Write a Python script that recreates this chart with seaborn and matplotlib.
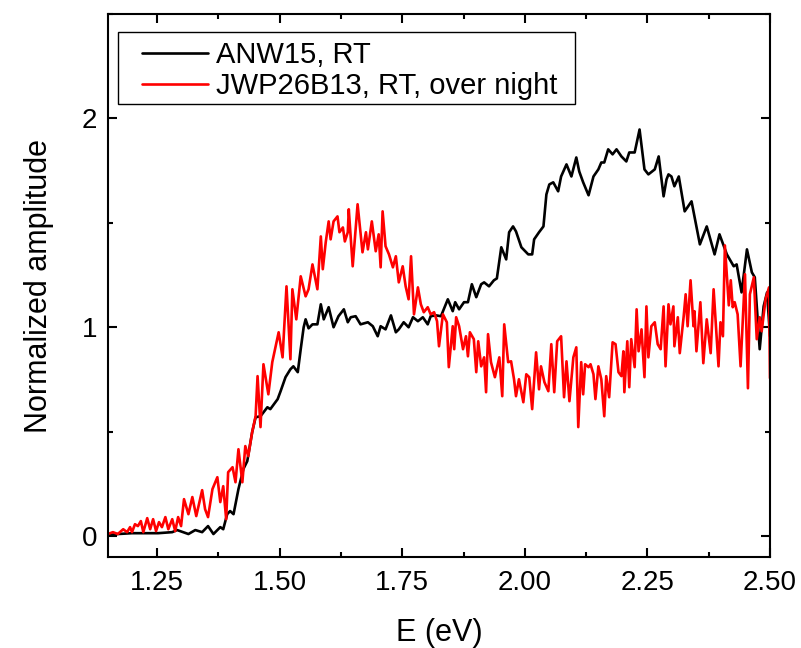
import numpy as np
import pandas as pd
import matplotlib
matplotlib.use("Agg")
import matplotlib.pyplot as plt
import seaborn as sns
from matplotlib.ticker import MultipleLocator, FormatStrFormatter
from matplotlib.patches import Rectangle

# ---------------- data ----------------
series_names = ["ANW15, RT", "JWP26B13, RT, over night"]

anw_E = [1.150, 1.170, 1.199, 1.232, 1.252, 1.281, 1.291, 1.303, 1.314, 1.328,
         1.342, 1.354, 1.365, 1.379, 1.385, 1.393, 1.399, 1.406, 1.416, 1.426,
         1.434, 1.444, 1.451, 1.461, 1.475, 1.481, 1.496, 1.502, 1.512, 1.522,
         1.528, 1.537, 1.543, 1.549, 1.553, 1.559, 1.567, 1.577, 1.584, 1.590,
         1.600, 1.610, 1.620, 1.631, 1.639, 1.645, 1.655, 1.665, 1.680, 1.690,
         1.700, 1.706, 1.716, 1.727, 1.737, 1.743, 1.753, 1.763, 1.772, 1.782,
         1.792, 1.802, 1.808, 1.819, 1.829, 1.843, 1.853, 1.858, 1.866, 1.876,
         1.884, 1.892, 1.901, 1.911, 1.917, 1.927, 1.937, 1.943, 1.952, 1.962,
         1.968, 1.976, 1.982, 1.993, 2.007, 2.015, 2.019, 2.029, 2.038, 2.044,
         2.050, 2.058, 2.068, 2.074, 2.085, 2.095, 2.105, 2.111, 2.119, 2.130,
         2.140, 2.150, 2.156, 2.162, 2.170, 2.179, 2.187, 2.197, 2.207, 2.213,
         2.224, 2.234, 2.244, 2.252, 2.265, 2.273, 2.283, 2.289, 2.293, 2.299,
         2.305, 2.314, 2.326, 2.340, 2.357, 2.371, 2.387, 2.397, 2.412, 2.426,
         2.432, 2.442, 2.453, 2.463, 2.469, 2.479, 2.487, 2.494, 2.500]
anw_amp = [0.005, 0.010, 0.014, 0.014, 0.014, 0.019, 0.029, 0.019, 0.010, 0.029,
           0.019, 0.048, 0.010, 0.043, 0.033, 0.105, 0.120, 0.105, 0.225, 0.321,
           0.359, 0.498, 0.569, 0.574, 0.617, 0.608, 0.656, 0.694, 0.761, 0.799,
           0.813, 0.785, 0.895, 1.000, 1.038, 0.995, 1.014, 1.014, 1.110, 1.038,
           1.096, 1.000, 1.053, 1.086, 1.024, 1.048, 1.053, 1.014, 1.024, 1.005,
           0.957, 1.005, 0.990, 1.057, 0.976, 0.990, 1.024, 1.000, 1.048, 1.029,
           1.048, 1.014, 1.053, 1.057, 1.053, 1.134, 1.077, 1.120, 1.086, 1.120,
           1.120, 1.206, 1.144, 1.206, 1.215, 1.196, 1.225, 1.234, 1.383, 1.325,
           1.455, 1.483, 1.459, 1.383, 1.349, 1.349, 1.421, 1.455, 1.483, 1.636,
           1.684, 1.694, 1.651, 1.722, 1.780, 1.722, 1.813, 1.746, 1.694, 1.632,
           1.722, 1.756, 1.789, 1.789, 1.852, 1.828, 1.852, 1.818, 1.794, 1.837,
           1.837, 1.947, 1.756, 1.732, 1.756, 1.818, 1.627, 1.708, 1.732, 1.722,
           1.675, 1.722, 1.555, 1.603, 1.397, 1.483, 1.349, 1.445, 1.349, 1.292,
           1.301, 1.167, 1.373, 1.263, 1.239, 0.895, 1.100, 1.167, 0.957]

jwp_E = [1.150, 1.160, 1.170, 1.181, 1.189, 1.195, 1.199, 1.205, 1.211, 1.217,
         1.222, 1.230, 1.236, 1.242, 1.248, 1.254, 1.260, 1.267, 1.273, 1.281,
         1.287, 1.293, 1.299, 1.305, 1.314, 1.322, 1.330, 1.342, 1.348, 1.354,
         1.363, 1.373, 1.379, 1.385, 1.391, 1.395, 1.404, 1.410, 1.416, 1.424,
         1.430, 1.436, 1.444, 1.451, 1.455, 1.461, 1.467, 1.477, 1.485, 1.492,
         1.498, 1.506, 1.514, 1.522, 1.526, 1.534, 1.543, 1.553, 1.559, 1.567,
         1.573, 1.577, 1.584, 1.588, 1.594, 1.600, 1.604, 1.610, 1.618, 1.622,
         1.629, 1.633, 1.639, 1.641, 1.649, 1.659, 1.669, 1.676, 1.680, 1.688,
         1.696, 1.702, 1.706, 1.710, 1.716, 1.723, 1.731, 1.737, 1.743, 1.751,
         1.757, 1.763, 1.768, 1.774, 1.782, 1.788, 1.794, 1.802, 1.808, 1.815,
         1.821, 1.825, 1.833, 1.841, 1.845, 1.853, 1.856, 1.860, 1.866, 1.874,
         1.880, 1.884, 1.888, 1.896, 1.901, 1.905, 1.911, 1.917, 1.921, 1.925,
         1.931, 1.939, 1.948, 1.954, 1.958, 1.966, 1.972, 1.978, 1.982, 1.988,
         1.997, 2.003, 2.009, 2.015, 2.023, 2.029, 2.033, 2.040, 2.048, 2.054,
         2.060, 2.066, 2.074, 2.080, 2.085, 2.091, 2.099, 2.105, 2.109, 2.115,
         2.119, 2.123, 2.130, 2.134, 2.140, 2.144, 2.150, 2.156, 2.162, 2.166,
         2.172, 2.179, 2.185, 2.191, 2.197, 2.201, 2.203, 2.209, 2.213, 2.217,
         2.224, 2.228, 2.232, 2.238, 2.244, 2.248, 2.252, 2.258, 2.265, 2.271,
         2.277, 2.283, 2.287, 2.293, 2.297, 2.303, 2.305, 2.312, 2.316, 2.324,
         2.328, 2.332, 2.338, 2.344, 2.346, 2.350, 2.358, 2.364, 2.371, 2.379,
         2.385, 2.395, 2.399, 2.404, 2.408, 2.416, 2.420, 2.424, 2.428, 2.434,
         2.440, 2.449, 2.455, 2.459, 2.467, 2.473, 2.479, 2.483, 2.491, 2.498,
         2.500]
jwp_amp = [0.010, 0.019, 0.010, 0.033, 0.019, 0.043, 0.019, 0.057, 0.048, 0.072,
           0.019, 0.086, 0.033, 0.081, 0.024, 0.067, 0.043, 0.091, 0.033, 0.081,
           0.024, 0.091, 0.048, 0.177, 0.105, 0.187, 0.096, 0.220, 0.129, 0.091,
           0.225, 0.282, 0.163, 0.239, 0.081, 0.306, 0.330, 0.258, 0.416, 0.258,
           0.431, 0.383, 0.498, 0.574, 0.766, 0.522, 0.823, 0.679, 0.833, 0.909,
           0.976, 0.856, 1.196, 0.847, 1.182, 1.038, 1.244, 1.148, 1.182, 1.301,
           1.230, 1.182, 1.435, 1.278, 1.407, 1.507, 1.421, 1.507, 1.531, 1.455,
           1.478, 1.411, 1.455, 1.565, 1.292, 1.589, 1.359, 1.455, 1.373, 1.507,
           1.364, 1.445, 1.287, 1.555, 1.388, 1.349, 1.287, 1.340, 1.215, 1.292,
           1.196, 1.134, 1.340, 1.062, 1.191, 1.110, 1.072, 1.096, 1.062, 1.072,
           1.029, 0.909, 1.062, 1.024, 0.809, 1.005, 0.895, 1.048, 1.005, 0.895,
           0.957, 0.861, 0.976, 0.943, 0.785, 0.933, 0.813, 0.856, 0.689, 0.967,
           0.833, 0.761, 0.856, 0.670, 1.014, 0.833, 0.837, 0.751, 0.670, 0.751,
           0.641, 0.775, 0.761, 0.608, 0.880, 0.703, 0.813, 0.737, 0.694, 0.919,
           0.689, 0.933, 0.957, 0.665, 0.837, 0.646, 0.856, 0.904, 0.522, 0.833,
           0.679, 0.823, 0.809, 0.823, 0.775, 0.656, 0.813, 0.751, 0.574, 0.766,
           0.665, 0.928, 0.919, 0.785, 0.766, 0.885, 0.689, 0.933, 0.713, 0.943,
           0.809, 1.086, 0.885, 0.990, 0.761, 1.100, 0.856, 1.005, 1.024, 0.919,
           0.895, 1.100, 0.813, 1.110, 1.014, 1.100, 0.909, 1.048, 0.876, 1.053,
           1.158, 1.005, 1.225, 1.005, 1.077, 0.885, 1.120, 0.828, 1.038, 0.876,
           1.182, 0.813, 1.024, 0.957, 1.392, 1.105, 1.225, 1.096, 1.120, 1.062,
           0.813, 1.254, 0.708, 1.158, 1.239, 0.943, 1.048, 0.981, 1.134, 1.191,
           0.756]

x_ticks = [1.25, 1.50, 1.75, 2.00, 2.25, 2.50]
y_ticks = [0, 1, 2]

# ---------------- plot ----------------
sns.set_style("white")
plt.rcParams["font.family"] = ["Liberation Sans", "DejaVu Sans"]
plt.rcParams["text.color"] = "black"
plt.rcParams["axes.labelcolor"] = "black"
plt.rcParams["xtick.color"] = "black"
plt.rcParams["ytick.color"] = "black"

W, H = 801, 648
fig = plt.figure(figsize=(W / 100, H / 100), dpi=100)
ax_l, ax_r, ax_t, ax_b = 108, 770, 14, 557
ax = fig.add_axes([ax_l / W, 1 - ax_b / H, (ax_r - ax_l) / W, (ax_b - ax_t) / H])

df_anw = pd.DataFrame({"E": anw_E, "amp": anw_amp})
df_jwp = pd.DataFrame({"E": jwp_E, "amp": jwp_amp})

LW = 1.9
sns.lineplot(data=df_anw, x="E", y="amp", ax=ax, color="#000000", lw=LW,
             sort=False, estimator=None, label=series_names[0])
sns.lineplot(data=df_jwp, x="E", y="amp", ax=ax, color="#FF0000", lw=LW,
             sort=False, estimator=None, label=series_names[1])

ax.set_xlim(1.15, 2.50)
ax.set_ylim(-0.1, 2.5)
ax.set_xticks(x_ticks)
ax.set_yticks(y_ticks)
ax.xaxis.set_major_formatter(FormatStrFormatter("%.2f"))
ax.xaxis.set_minor_locator(MultipleLocator(0.125))
ax.yaxis.set_minor_locator(MultipleLocator(0.5))

for s in ax.spines.values():
    s.set_visible(True)
    s.set_color("black")
    s.set_linewidth(1.5)

ax.tick_params(which="both", direction="in", top=True, right=True,
               bottom=True, left=True, color="black", labelcolor="black", width=1.5)
ax.tick_params(which="major", length=6.5, labelsize=20, pad=8)
ax.tick_params(which="minor", length=3.5)
ax.tick_params(axis="x", which="major", pad=9)

ax.set_xlabel("E (eV)", fontsize=22, labelpad=16, color="black")
ax.set_ylabel("Normalized amplitude", fontsize=22, labelpad=20, color="black")
ax.grid(False)

aw, ah = ax_r - ax_l, ax_b - ax_t
leg = ax.legend(loc="upper left",
                bbox_to_anchor=((142 - ax_l) / aw, (ax_b - 41) / ah),
                frameon=False, fontsize=21, borderpad=0, borderaxespad=0,
                handlelength=2.25, handletextpad=0.3, labelspacing=0.1)
for line in leg.get_lines():
    line.set_linewidth(LW)
for t in leg.get_texts():
    t.set_color("black")

# legend frame
x0 = (118 - ax_l) / aw
x1 = (575 - ax_l) / aw
y1 = (ax_b - 32) / ah
y0 = (ax_b - 104) / ah
ax.add_patch(Rectangle((x0, y0), x1 - x0, y1 - y0, transform=ax.transAxes,
                       fill=False, ec="black", lw=1.0, clip_on=False, zorder=5))

fig.savefig("out.png", dpi=100)
